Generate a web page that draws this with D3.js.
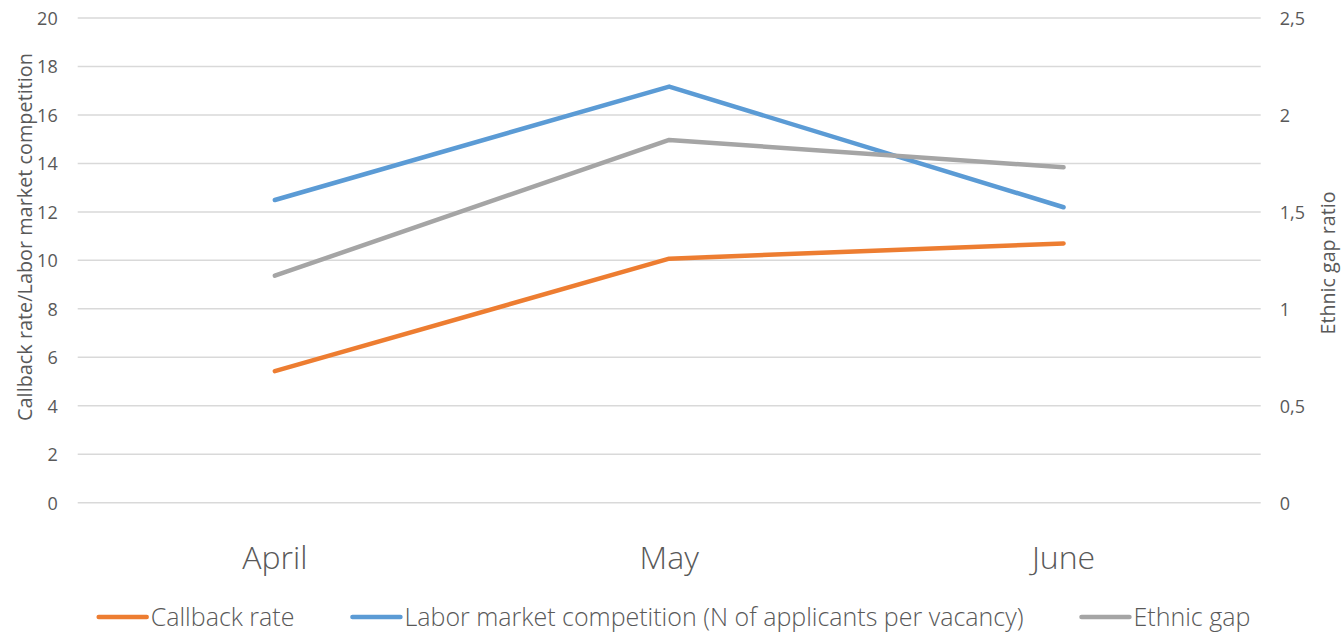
<!DOCTYPE html>
<html>
<head>
<meta charset="utf-8">
<script src="https://cdn.jsdelivr.net/npm/d3@7"></script>
<style>
  body { margin: 0; background: #fff; }
  text { font-family: "Open Sans", sans-serif; fill: #595959; }
</style>
</head>
<body>
<svg id="drawing_region"></svg>
<script>
const months = ['April', 'May', 'June'];
const callbackRate = [5.43, 10.07, 10.70];
const laborCompetition = [12.49, 17.17, 12.19];
const ethnicGap = [1.171, 1.871, 1.730];
const leftTicks = [0, 2, 4, 6, 8, 10, 12, 14, 16, 18, 20];
const rightTicks = [0, 0.5, 1, 1.5, 2, 2.5];
const seriesNames = ['Callback rate', 'Labor market competition (N of applicants per vacancy)', 'Ethnic gap'];

const width = 1343, height = 633;
const margin = { left: 77.7, right: 1260.7, top: 18, bottom: 502.7 };
const colors = ['#ED7D31', '#5B9BD5', '#A5A5A5'];

const svg = d3.select('#drawing_region')
    .attr('width', width)
    .attr('height', height);

const x = d3.scaleBand()
    .domain(months)
    .range([margin.left, margin.right]);

const yLeft = d3.scaleLinear().domain([0, 20]).range([margin.bottom, margin.top]);
const yRight = d3.scaleLinear().domain([0, 2.5]).range([margin.bottom, margin.top]);

// gridlines
svg.append('g')
    .selectAll('line')
    .data(leftTicks)
    .enter()
    .append('line')
    .attr('x1', margin.left)
    .attr('x2', margin.right)
    .attr('y1', d => yLeft(d))
    .attr('y2', d => yLeft(d))
    .attr('stroke', '#D9D9D9')
    .attr('stroke-width', 1.5);

// left axis
const leftAxis = svg.append('g')
    .attr('transform', `translate(${margin.left - 20},0)`)
    .call(d3.axisLeft(yLeft).tickValues(leftTicks).tickSize(0).tickPadding(0));
leftAxis.select('.domain').remove();
leftAxis.selectAll('text')
    .style('font-size', '18px')
    .attr('dy', '0.35em');

// right axis
const fmt = d => String(d).replace('.', ',');
const rightAxis = svg.append('g')
    .attr('transform', `translate(${margin.right + 19},0)`)
    .call(d3.axisRight(yRight).tickValues(rightTicks).tickFormat(fmt).tickSize(0).tickPadding(0));
rightAxis.select('.domain').remove();
rightAxis.selectAll('text')
    .style('font-size', '18px')
    .attr('dy', '0.35em');

// x labels
svg.append('g')
    .selectAll('text')
    .data(months)
    .enter()
    .append('text')
    .attr('x', d => x(d) + x.bandwidth() / 2)
    .attr('y', 569)
    .attr('text-anchor', 'middle')
    .style('font-size', '32px')
    .style('font-weight', 300)
    .text(d => d);

// axis titles, sized to the lengths seen in the original
function title(txt, cx, cy, len) {
    const t = svg.append('text')
        .attr('transform', `translate(${cx},${cy}) rotate(-90)`)
        .attr('text-anchor', 'middle')
        .style('font-size', '17px')
        .text(txt);
    const fs = 17 * len / t.node().getComputedTextLength();
    t.style('font-size', fs + 'px');
}
title('Callback rate/Labor market competition', 32, 237, 368);
title('Ethnic gap ratio', 1335, 263, 143);

// lines
const series = [
    { values: callbackRate, y: yLeft },
    { values: laborCompetition, y: yLeft },
    { values: ethnicGap, y: yRight },
];

series.forEach((s, i) => {
    const line = d3.line()
        .x((d, j) => x(months[j]) + x.bandwidth() / 2)
        .y(d => s.y(d));
    svg.append('path')
        .datum(s.values)
        .attr('d', line)
        .attr('fill', 'none')
        .attr('stroke', colors[i])
        .attr('stroke-width', 4.5)
        .attr('stroke-linecap', 'round')
        .attr('stroke-linejoin', 'round');
});

// legend
const legend = svg.append('g');
const items = [];
seriesNames.forEach((name, i) => {
    const g = legend.append('g');
    g.append('line')
        .attr('x1', 0).attr('x2', 48)
        .attr('y1', 0).attr('y2', 0)
        .attr('stroke', colors[i])
        .attr('stroke-width', 4.5)
        .attr('stroke-linecap', 'round');
    const t = g.append('text')
        .attr('x', 52)
        .attr('dy', '0.35em')
        .style('font-size', '25px')
        .style('font-weight', 300)
        .text(name);
    items.push({ g: g, w: 52 + t.node().getComputedTextLength() });
});
const gap = 58;
const total = d3.sum(items, d => d.w) + gap * (items.length - 1);
let cx = 674.5 - total / 2;
items.forEach(it => {
    it.g.attr('transform', `translate(${cx},617)`);
    cx += it.w + gap;
});
</script>
</body>
</html>
